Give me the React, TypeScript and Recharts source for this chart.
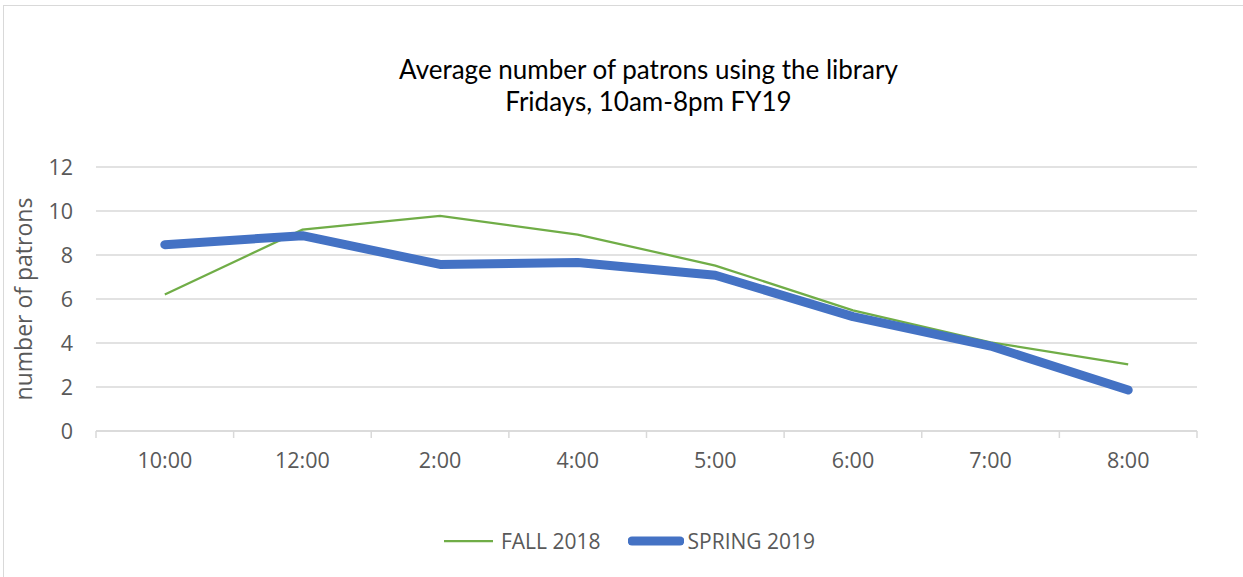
import React from "react"
import { LineChart, Line, XAxis, YAxis, CartesianGrid, Legend } from "recharts"

const times = ["10:00", "12:00", "2:00", "4:00", "5:00", "6:00", "7:00", "8:00"]
const fall2018 = [6.2, 9.15, 9.78, 8.93, 7.52, 5.48, 4.03, 3.03]
const spring2019 = [8.47, 8.88, 7.57, 7.66, 7.08, 5.2, 3.86, 1.86]
const yTicks = [0, 2, 4, 6, 8, 10, 12]

const data = times.map((t, i) => ({ time: t, fall: fall2018[i], spring: spring2019[i] }))

const GREEN = "#70AD47"
const BLUE = "#4472C4"
const TEXT = "#595959"
const GRID = "#d9d9d9"
const FONT = "'Open Sans', sans-serif"

// category label centred in its band, with Excel-style tick marks on the band edges
function TimeTick(props: any) {
  const { x, y, payload, index } = props
  const half = payload && payload.offset ? payload.offset : 0
  const axisY = y - 22
  return (
    <g>
      <line x1={x - half} y1={axisY} x2={x - half} y2={axisY + 7} stroke={GRID} strokeWidth={1.5} />
      {index === times.length - 1 && (
        <line x1={x + half} y1={axisY} x2={x + half} y2={axisY + 7} stroke={GRID} strokeWidth={1.5} />
      )}
      <text x={x} y={y} dy="0.71em" textAnchor="middle" fill={TEXT} fontSize={21.5} fontFamily={FONT}>
        {payload.value}
      </text>
    </g>
  )
}

function LegendBox() {
  const items = [
    { label: "FALL 2018", color: GREEN, w: 2.25, len: 51, gapAfterLine: 4, gapAfterItem: 27, cap: "butt" as const },
    { label: "SPRING 2019", color: BLUE, w: 9, len: 50, gapAfterLine: 4, gapAfterItem: 0, cap: "round" as const },
  ]
  return (
    <div style={{ display: "flex", alignItems: "center", paddingLeft: 440, fontFamily: FONT, fontSize: 21, color: TEXT }}>
      {items.map((it) => (
        <div key={it.label} style={{ display: "flex", alignItems: "center", marginRight: it.gapAfterItem }}>
          <svg width={it.len + 6} height={14} style={{ marginRight: it.gapAfterLine }}>
            <line x1={4} y1={7} x2={it.len + 2} y2={7} stroke={it.color} strokeWidth={it.w} strokeLinecap={it.cap} />
          </svg>
          <span>{it.label}</span>
        </div>
      ))}
    </div>
  )
}

export default function App() {
  return (
    <div style={{ position: "absolute", left: 0, top: 0, width: 1243, height: 577, overflow: "hidden", background: "#fff" }}>
      <div style={{ position: "absolute", left: 3, top: 5, width: 1300, height: 700, border: "1.5px solid #d9d9d9", boxSizing: "border-box" }} />
      <div style={{ position: "absolute", left: 0, width: 1297, top: 53, textAlign: "center", fontFamily: "Lato, sans-serif", fontSize: 26, lineHeight: "32px", color: "#000" }}>
        Average number of patrons using the library
        <br />
        Fridays, 10am-8pm FY19
      </div>
      <div style={{ position: "absolute", left: 0, top: 0 }}>
        <LineChart width={1243} height={577} data={data} margin={{ top: 167, right: 46, bottom: 73, left: 0 }}>
          <CartesianGrid vertical={false} stroke={GRID} strokeWidth={1.5} />
          <XAxis
            dataKey="time"
            scale="band"
            stroke={GRID}
            strokeWidth={1.5}
            tickLine={false}
            tickSize={0}
            tickMargin={22}
            height={45}
            interval={0}
            tick={<TimeTick />}
          />
          <YAxis
            width={96}
            domain={[0, 12]}
            ticks={yTicks}
            axisLine={false}
            tickLine={false}
            tickSize={6}
            tickMargin={17}
            tick={{ fill: TEXT, fontSize: 21.5, fontFamily: FONT }}
            label={{
              value: "number of patrons",
              angle: -90,
              position: "insideLeft",
              dx: 19,
              style: { textAnchor: "middle", fill: TEXT, fontSize: 23, fontFamily: FONT },
            }}
          />
          <Line type="linear" dataKey="fall" name="FALL 2018" stroke={GREEN} strokeWidth={2.25} dot={false} isAnimationActive={false} />
          <Line type="linear" dataKey="spring" name="SPRING 2019" stroke={BLUE} strokeWidth={9} strokeLinecap="round" strokeLinejoin="round" dot={false} isAnimationActive={false} />
          <Legend content={() => <LegendBox />} wrapperStyle={{ position: "absolute", top: 527, left: 0, width: 1243 }} />
        </LineChart>
      </div>
    </div>
  )
}
